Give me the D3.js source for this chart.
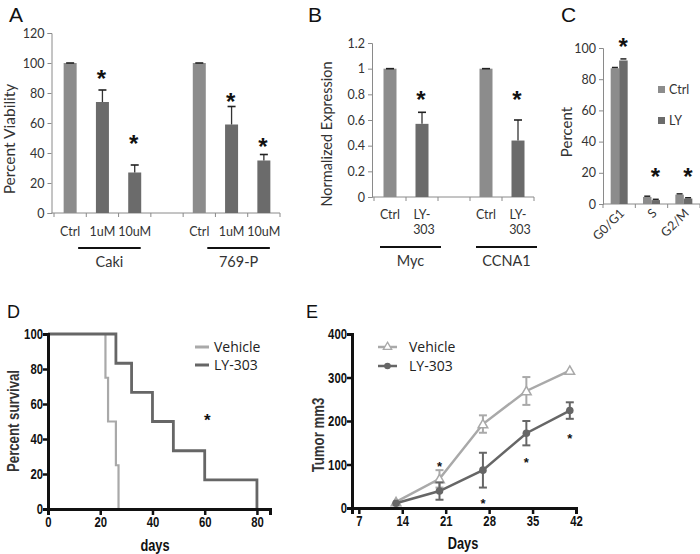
<!DOCTYPE html>
<html><head><meta charset="utf-8">
<script src="https://cdn.jsdelivr.net/npm/d3@7"></script>
<style>body{margin:0;background:#fff} svg{display:block}</style>
</head><body><svg id="c" width="700" height="554"></svg>
<script>
// ---------- DATA ----------
// Panel A
const aCats = ["Ctrl","1uM","10uM","","Ctrl ","1uM ","10uM "];
const aValues = [100,74,27,null,100,59,35];
const aErr = [0,8,5,null,0,12,4];
const aStar = [null,92,49,null,null,77,47];
const aTicks = [0,20,40,60,80,100,120];
const aGroups = [{name:"Caki",from:"Ctrl",to:"10uM"},{name:"769-P",from:"Ctrl ",to:"10uM "}];
// Panel B
const bCats = ["Ctrl","LY-303","","Ctrl ","LY-303 "];
const bValues = [1.0,0.57,null,1.0,0.44];
const bErr = [0,0.09,null,0,0.16];
const bStar = [null,0.79,null,null,0.79];
const bTicks = [0,0.2,0.4,0.6,0.8,1,1.2];
const bGroups = [{name:"Myc",from:"Ctrl",to:"LY-303"},{name:"CCNA1",from:"Ctrl ",to:"LY-303 "}];
// Panel C
const cPhases = ["G0/G1","S","G2/M"];
const cSeries = ["Ctrl","LY"];
const cCtrl = [87,4.5,6];
const cLY = [92,2.5,3.5];
const cCtrlErr = [0.5,0.5,0.5];
const cLYErr = [1,0.5,0.5];
const cStar = [103,20,20];
const cTicks = [0,20,40,60,80,100];
// Panel D (Kaplan-Meier)
const dVehTimes = [0,22,23,26,27];
const dVehSurv = [100,75,50,25,0];
const dLYTimes = [0,26,32,40,48,60,80];
const dLYSurv = [100,83.3,66.7,50,33.3,16.7,0];
const dTicksX = [0,20,40,60,80];
const dTicksY = [0,20,40,60,80,100];
const dStar = [61,55];
// Panel E (tumor growth)
const eDays = [13,20,27,34,41];
const eVeh = [14,67,193,269,316];
const eVehErr = [3,20,20,32,4];
const eLY = [11,39,87,172,224];
const eLYErr = [4,20,40,28,19];
const eStarDays = [20,27,34,41];
const eStar = [108,23,117,172];
const eTicksX = [7,14,21,28,35,42];
const eTicksY = [0,100,200,300,400];
const seriesNames = ["Vehicle","LY-303"];

// ---------- DRAW ----------
const svg = d3.select("#c");
svg.append("rect").attr("width",700).attr("height",554).attr("fill","#fff");
const fA = "Lato, 'Open Sans', sans-serif";
const fN = "'Liberation Sans Narrow','Liberation Sans',Arial,sans-serif";
const txt = "#333", axc = "#8a8a8a", cCol = "#8c8c8c", tCol = "#6b6b6b";
const vehCol = "#a9a9a9", lyCol = "#666666";
function narrowize(sel, k){
  sel.each(function(){ const L = this.getComputedTextLength(); if(L>0){ d3.select(this).attr("textLength",L*k).attr("lengthAdjust","spacingAndGlyphs"); } });
}

function letter(t,x,y,s){svg.append("text").attr("x",x).attr("y",y).attr("font-family","'Liberation Sans',Arial,sans-serif").attr("font-size",s).attr("fill","#111").text(t);}
letter("A",9,22,21);letter("B",308,22,21);letter("C",561,22,21);letter("D",7,318,18);letter("E",306,318,18);

function rotTitle(t,x,y,size,font,weight){
  return svg.append("text").attr("transform",`translate(${x},${y}) rotate(-90)`).attr("text-anchor","middle")
    .attr("dy","0.35em").attr("font-family",font).attr("font-size",size).attr("font-weight",weight||"normal").attr("fill",txt).text(t);
}
function star(g,x,y,size){
  g.append("text").attr("x",x).attr("y",y).attr("text-anchor","middle").attr("dy","0.75em")
   .attr("font-family","'Liberation Sans',Arial,sans-serif").attr("font-weight","bold").attr("font-size",size).attr("fill","#111").text("*");
}
function leftAxisExcel(g,y,ticks,x0,fmt){
  const ax = d3.axisLeft(y).tickValues(ticks).tickSize(4).tickFormat(fmt||d3.format("d"));
  const a = g.append("g").attr("transform",`translate(${x0},0)`).call(ax);
  a.select(".domain").attr("stroke",axc);
  a.selectAll(".tick line").attr("stroke",axc);
  a.selectAll("text").attr("font-family",fA).attr("font-size",12.5).attr("fill",txt).attr("x",-7);
}
function bottomBand(g,x,yy,x0){
  const [r0,r1] = x.range();
  g.append("line").attr("x1",x0).attr("x2",r1).attr("y1",yy).attr("y2",yy).attr("stroke",axc);
  const bnds = x.domain().map(d=>x(d)).concat([r1]);
  g.selectAll(null).data(bnds).enter().append("line").attr("x1",d=>d).attr("x2",d=>d)
    .attr("y1",yy).attr("y2",yy+4).attr("stroke",axc);
}
function barPanel(cfg){
  const g = svg.append("g");
  const x = d3.scaleBand().domain(cfg.cats).range(cfg.xr);
  const y = d3.scaleLinear().domain(cfg.yd).range(cfg.yr);
  leftAxisExcel(g,y,cfg.ticks,cfg.x0,cfg.fmt);
  bottomBand(g,x,cfg.yr[0],cfg.x0);
  const bw = 13;
  cfg.cats.forEach((c,i)=>{
    const v = cfg.values[i]; if(v==null) return;
    const cx = x(c)+x.bandwidth()/2;
    g.append("rect").attr("x",cx-bw/2).attr("width",bw).attr("y",y(v)).attr("height",y(0)-y(v))
      .attr("fill",cfg.ctrl[i]?cCol:tCol);
    const top = y(v+cfg.err[i]);
    g.append("line").attr("x1",cx).attr("x2",cx).attr("y1",y(v)).attr("y2",top).attr("stroke","#333").attr("stroke-width",1.3);
    g.append("line").attr("x1",cx-4).attr("x2",cx+4).attr("y1",top).attr("y2",top).attr("stroke","#222").attr("stroke-width",1.6);
    if(cfg.star[i]!=null) star(g,cx-1,y(cfg.star[i])-6,24);
    const lab = c.trim();
    if(lab.startsWith("LY-")){
      g.append("text").attr("x",cx).attr("y",cfg.labY).attr("text-anchor","middle").attr("font-family",fA).attr("font-size",12.5).attr("fill",txt).text("LY-");
      g.append("text").attr("x",cx+2).attr("y",cfg.labY+15).attr("text-anchor","middle").attr("font-family",fA).attr("font-size",12.5).attr("fill",txt).text(lab.slice(3));
    } else {
      g.append("text").attr("x",cx).attr("y",cfg.labY).attr("text-anchor","middle").attr("font-family",fA).attr("font-size",12.5).attr("fill",txt).text(lab);
    }
  });
  cfg.groups.forEach(gr=>{
    const a = x(gr.from)+x.bandwidth()/2+cfg.gl, b = x(gr.to)+x.bandwidth()/2+cfg.gr;
    g.append("line").attr("x1",a).attr("x2",b).attr("y1",cfg.lineY).attr("y2",cfg.lineY).attr("stroke","#111").attr("stroke-width",2);
    g.append("text").attr("x",(a+b)/2).attr("y",cfg.lineY+19).attr("text-anchor","middle").attr("font-family",fA).attr("font-size",14.5).attr("fill",txt).text(gr.name);
  });
}
// Panel A
barPanel({cats:aCats,values:aValues,err:aErr,star:aStar,ticks:aTicks,yd:[0,120],yr:[213,33],xr:[54,280],x0:51.5,
  ctrl:aCats.map(c=>c.trim()==="Ctrl"),labY:236,lineY:248,groups:aGroups,gl:8,gr:6});
rotTitle("Percent Viability",10,139,15.5,fA);
// Panel B
barPanel({cats:bCats,values:bValues,err:bErr,star:bStar,ticks:bTicks,yd:[0,1.2],yr:[197,43],xr:[374,534],x0:372,
  fmt:d=>d3.format("")(+d.toFixed(1)),ctrl:bCats.map(c=>c.trim()==="Ctrl"),labY:219,lineY:247,groups:bGroups,gl:-10,gr:19});
rotTitle("Normalized Expression",327,134,14.5,fA);

// Panel C
{
  const g = svg.append("g");
  const x = d3.scaleBand().domain(cPhases).range([603,700]);
  const xs = d3.scaleBand().domain(cSeries).range([0,17]);
  const y = d3.scaleLinear().domain([0,100]).range([204,48]);
  leftAxisExcel(g,y,cTicks,603);
  bottomBand(g,x,204,603);
  const vals = [cCtrl,cLY], errs=[cCtrlErr,cLYErr], cols=[cCol,tCol];
  cPhases.forEach((p,i)=>{
    const x0 = x(p)+x.bandwidth()/2-8.5;
    cSeries.forEach((s,j)=>{
      const v = vals[j][i], bx = x0+xs(s);
      g.append("rect").attr("x",bx).attr("width",xs.bandwidth()).attr("y",y(v)).attr("height",y(0)-y(v)).attr("fill",cols[j]);
      const top = y(v+errs[j][i]), cx = bx+xs.bandwidth()/2;
      g.append("line").attr("x1",cx-3).attr("x2",cx+3).attr("y1",top).attr("y2",top).attr("stroke","#222").attr("stroke-width",1.5);
    });
    star(g,x(p)+x.bandwidth()/2+4,y(cStar[i])-6,24);
    g.append("text").attr("transform",`translate(${x(p)+x.bandwidth()/2+6},${214}) rotate(-45)`).attr("text-anchor","end")
      .attr("font-family",fA).attr("font-size",12.5).attr("fill",txt).text(p);
  });
  cSeries.forEach((s,j)=>{
    const ly = 90+j*31;
    g.append("rect").attr("x",658).attr("y",ly-4).attr("width",7).attr("height",7).attr("fill",cols[j]);
    g.append("text").attr("x",669).attr("y",ly).attr("dy","0.35em").attr("font-family",fA).attr("font-size",12.5).attr("fill",txt).text(s);
  });
  rotTitle("Percent",567,132,15,fA);
}

// Panels D/E prism-style axes
function prismAxes(g,x,y,tx,ty,x0,y0){
  const ax = d3.axisBottom(x).tickValues(tx).tickSize(6).tickFormat(d3.format("d"));
  const a = g.append("g").attr("transform",`translate(0,${y0})`).call(ax);
  const ay = d3.axisLeft(y).tickValues(ty).tickSize(5).tickFormat(d3.format("d"));
  const b = g.append("g").attr("transform",`translate(${x0},0)`).call(ay);
  [a,b].forEach(s=>{
    s.select(".domain").attr("stroke","#111").attr("stroke-width",3);
    s.selectAll(".tick line").attr("stroke","#111").attr("stroke-width",2.5);
    s.selectAll("text").attr("font-family",fN).attr("font-weight","bold").attr("font-size",14.5).attr("fill","#111");
  });
  a.selectAll("text").attr("y",8);
  b.selectAll("text").attr("x",-5);
  narrowize(a.selectAll("text"),0.78);
  narrowize(b.selectAll("text"),0.78);
}
function legend(g,x,y,i,col){
  g.append("line").attr("x1",x).attr("x2",x+14).attr("y1",y).attr("y2",y).attr("stroke",col).attr("stroke-width",3);
  g.append("text").attr("x",x+19).attr("y",y).attr("dy","0.35em").attr("font-family","'Open Sans',sans-serif").attr("font-size",14).attr("fill","#222").text(seriesNames[i]);
}
// Panel D
{
  const g = svg.append("g");
  const x = d3.scaleLinear().domain([0,85]).range([48,270]);
  const y = d3.scaleLinear().domain([0,100]).range([509,334]);
  const line = d3.line().x(d=>x(d[0])).y(d=>y(d[1])).curve(d3.curveStepAfter);
  const vehPts = dVehTimes.map((t,i)=>[t,dVehSurv[i]]);
  const lyPts = dLYTimes.map((t,i)=>[t,dLYSurv[i]]);
  g.append("path").attr("d",line(vehPts)).attr("fill","none").attr("stroke",vehCol).attr("stroke-width",2.2);
  g.append("path").attr("d",line(lyPts)).attr("fill","none").attr("stroke",lyCol).attr("stroke-width",2.8);
  prismAxes(g,x,y,dTicksX,dTicksY,48,509);
  legend(g,195,347,0,vehCol);
  legend(g,195,365,1,lyCol);
  g.append("text").attr("x",x(dStar[0])).attr("y",y(dStar[1])).attr("text-anchor","middle").attr("dy","0.75em")
    .attr("font-family","'Liberation Sans',Arial,sans-serif").attr("font-weight","bold").attr("font-size",17).attr("fill","#111").text("*");
  const t = g.append("text").attr("x",155).attr("y",551).attr("text-anchor","middle").attr("font-family",fN).attr("font-weight","bold").attr("font-size",16).attr("fill","#111").text("days");
  narrowize(t,0.8);
  narrowize(rotTitle("Percent survival",13,421,16.5,fN,"bold"),0.8);
}
// Panel E
{
  const g = svg.append("g");
  const x = d3.scaleLinear().domain([5.9,42]).range([352,576]);
  const y = d3.scaleLinear().domain([0,400]).range([508,334]);
  const line = d3.line().x((d,i)=>x(eDays[i])).y(d=>y(d));
  const sets = [[eVeh,eVehErr,vehCol],[eLY,eLYErr,lyCol]];
  sets.forEach(([v,e,col],k)=>{
    g.append("path").attr("d",line(v)).attr("fill","none").attr("stroke",col).attr("stroke-width",2.5);
    v.forEach((d,i)=>{
      const cx = x(eDays[i]);
      if(e[i]>5){
        g.append("line").attr("x1",cx).attr("x2",cx).attr("y1",y(d+e[i])).attr("y2",y(d-e[i])).attr("stroke",col).attr("stroke-width",2);
        [d+e[i],d-e[i]].forEach(w=>g.append("line").attr("x1",cx-4).attr("x2",cx+4).attr("y1",y(w)).attr("y2",y(w)).attr("stroke",col).attr("stroke-width",2));
      }
      if(k===0){
        g.append("path").attr("d",d3.symbol(d3.symbolTriangle,40)()).attr("transform",`translate(${cx},${y(d)+1})`)
          .attr("fill","#fff").attr("stroke",col).attr("stroke-width",1.5);
      } else {
        g.append("circle").attr("cx",cx).attr("cy",y(d)).attr("r",3.8).attr("fill",col);
      }
    });
  });
  prismAxes(g,x,y,eTicksX,eTicksY,352,508);
  eStar.forEach((s,i)=>{
    g.append("text").attr("x",x(eStarDays[i])).attr("y",y(s)).attr("text-anchor","middle").attr("dy","0.75em")
      .attr("font-family","'Liberation Sans',Arial,sans-serif").attr("font-weight","bold").attr("font-size",13).attr("fill","#111").text("*");
  });
  // legend
  g.append("line").attr("x1",378).attr("x2",397).attr("y1",347).attr("y2",347).attr("stroke",vehCol).attr("stroke-width",2.5);
  g.append("path").attr("d",d3.symbol(d3.symbolTriangle,30)()).attr("transform","translate(387.5,347)").attr("fill","#fff").attr("stroke",vehCol).attr("stroke-width",1.3);
  g.append("line").attr("x1",378).attr("x2",397).attr("y1",366).attr("y2",366).attr("stroke",lyCol).attr("stroke-width",2.5);
  g.append("circle").attr("cx",387.5).attr("cy",366).attr("r",3.3).attr("fill",lyCol);
  seriesNames.forEach((n,i)=>g.append("text").attr("x",409).attr("y",347+i*19).attr("dy","0.35em").attr("font-family","'Open Sans',sans-serif").attr("font-size",14).attr("fill","#222").text(n));
  const t = g.append("text").attr("x",463).attr("y",549).attr("text-anchor","middle").attr("font-family",fN).attr("font-weight","bold").attr("font-size",16).attr("fill","#111").text("Days");
  narrowize(t,0.8);
  narrowize(rotTitle("Tumor mm3",318,435,16.5,fN,"bold"),0.8);
}
</script></body></html>
